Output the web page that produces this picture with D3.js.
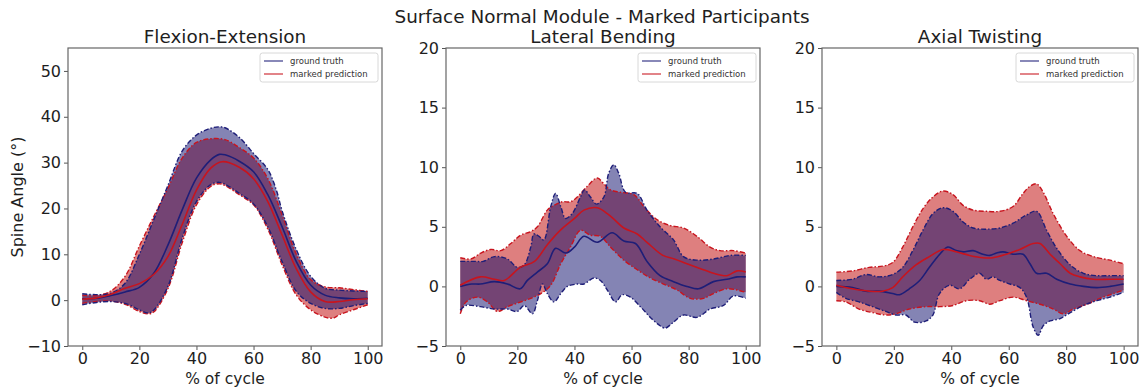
<!DOCTYPE html>
<html>
<head>
<meta charset="utf-8">
<script src="https://cdnjs.cloudflare.com/ajax/libs/d3/7.8.5/d3.min.js"></script>
<style>
  body { margin: 0; background: #fff; }
  text { font-family: "DejaVu Sans", sans-serif; }
</style>
</head>
<body>
<div id="chart"></div>
<script>
// ---- data: [% of cycle, angle in degrees] ----
const xTicks = [0, 20, 40, 60, 80, 100];

// Flexion-Extension
const feGtMean = [[0,0.3],[5,0.4],[10,1.0],[15,1.8],[20,2.8],[25,5.8],[30,12],[35,19.7],[40,26.6],[45,30.6],[48,31.8],[50,31.7],[55,30.3],[60,28.0],[65,23],[70,16],[75,8.4],[80,3.3],[85,1.1],[90,0.5],[95,0.3],[100,0.4]];
const fePrMean = [[0,0.2],[5,0.5],[10,1.3],[15,2.6],[20,3.6],[25,5.6],[30,9.5],[35,16.5],[40,24],[45,28.8],[49,30.2],[55,29],[60,26.5],[65,21.5],[70,14.2],[75,6.8],[80,1.8],[85,-0.3],[90,-0.3],[95,0.1],[100,0.3]];
const feGtUpper = [[0,1.4],[5,1.2],[10,1.5],[15,3.7],[20,10],[25,17.5],[30,25],[35,32.5],[40,36],[45,37.5],[48,37.8],[50,37.6],[55,35.5],[60,32],[65,28.5],[68,24],[70,19.5],[75,11],[80,5.2],[85,2.6],[90,2.2],[95,2.0],[100,1.9]];
const fePrUpper = [[0,1.1],[5,1.0],[10,2.0],[15,5.2],[20,11.8],[25,18.2],[30,24.4],[35,31],[40,34.4],[45,35.2],[50,35],[55,33.3],[60,31],[65,26.5],[70,18.6],[75,10],[80,4.5],[85,2.9],[90,2.7],[95,2.3],[100,1.9]];
const feGtLower = [[0,-1.0],[5,-0.5],[10,-0.3],[15,-0.7],[20,-2.1],[23,-2.8],[25,-2.2],[30,3],[35,13.5],[40,21.5],[45,25.2],[48,25.7],[50,25.3],[55,23.3],[60,21],[65,16],[70,8.4],[75,1.9],[80,-0.7],[85,-1.8],[90,-1.8],[95,-1.2],[100,-0.7]];
const fePrLower = [[0,-0.7],[5,-0.3],[10,-0.2],[15,-0.9],[20,-2.5],[23,-3.0],[25,-2.6],[30,2.5],[35,12.5],[40,20.8],[45,24.8],[48,25.4],[50,25.0],[55,23],[60,20.8],[65,15.5],[70,7.7],[75,1.1],[80,-2.1],[85,-3.7],[88,-3.9],[90,-3.2],[95,-2.1],[100,-1.0]];

// Lateral Bending
const lbGtMean = [[0,0],[4,0.2],[7,0.2],[12,0.4],[16.5,0.2],[21,-0.2],[23.5,0.5],[27,1.2],[30.5,1.9],[33.4,3.2],[37,2.8],[40,3.3],[43.3,4.2],[48,3.7],[53.2,4.5],[57.3,3.8],[61.4,3.6],[65.4,2.1],[70,0.9],[74.7,0.4],[79.4,0],[83.5,-0.2],[88.7,0.4],[93.4,0.6],[97,0.8],[100,0.8]];
const lbPrMean = [[0,0.1],[7,0.8],[12,0.6],[15.4,0.5],[21,1.6],[26,2.1],[30.5,3.5],[35,4.7],[40,5.7],[43.3,6.4],[48,6.6],[51.5,6.1],[54,5.6],[57.3,4.9],[62,4.4],[65.4,3.7],[71,2.6],[75,2.3],[79.4,1.9],[84,1.5],[88.7,1.1],[93.4,0.9],[97,1.3],[100,1.2]];
const lbGtUpper = [[0,2.1],[5,2.1],[8,2.1],[12,2.5],[16.5,2.3],[20,1.6],[22.4,1.8],[24.7,3.3],[25.8,4.4],[27.6,4.2],[29.3,3.9],[31.7,6.7],[33.4,7.8],[35.2,6.7],[36.9,5.7],[39.2,6.1],[42.1,7.5],[43.5,8.1],[45.6,7.5],[47.7,6.9],[50.3,7.5],[52,9.5],[53.8,10.2],[55.5,9.5],[57.9,7.9],[62,7.8],[65.4,6.4],[70,5.0],[74.7,3.9],[78.2,2.5],[83,2.2],[88.7,2.3],[94.5,2.6],[100,2.6]];
const lbPrUpper = [[0,2.4],[3.7,2.3],[7.2,2.8],[10.7,3.1],[14.2,3.0],[17.7,3.6],[21.2,4.3],[24.7,4.6],[27,5.0],[30.5,6.4],[32.8,6.8],[35.7,7.1],[38.6,7.1],[41,7.5],[44.5,8.4],[48,9.1],[50.3,8.6],[52.6,8.1],[56.1,7.9],[60.8,7.7],[64.3,6.7],[68.9,5.6],[73.6,5.1],[78.2,4.9],[82.9,4.2],[87.5,3.3],[91,3.0],[95.7,3.0],[100,2.8]];
const lbGtLower = [[0,-2.0],[2,-1.6],[7,-1.7],[12,-1.9],[16.5,-1.9],[20,-2.1],[22.4,-1.6],[25.3,-2.3],[27,-1.2],[28.8,0.2],[30.5,-0.6],[32.8,-1.3],[35.2,-0.6],[37.5,0],[41,0.2],[43.3,0.2],[46.8,0.7],[49.1,0.5],[51.5,-0.3],[54.4,-1.3],[56.7,-0.7],[59.6,-0.9],[63.1,-1.7],[66.6,-2.6],[70,-3.3],[71.8,-3.5],[74.7,-3.0],[78.2,-2.4],[82.9,-2.6],[87.5,-1.9],[92.2,-1.6],[95.7,-0.8],[100,-1.0]];
const lbPrLower = [[0,-2.3],[2,-1.3],[6,-0.9],[9.5,-1.3],[13,-2.1],[16.5,-1.7],[20,-1.4],[24.7,-1.0],[28.2,-0.6],[31.7,0.1],[35.2,1.9],[38.6,3.3],[42.1,4.7],[45.6,4.3],[49.1,4.2],[52.6,3.3],[57.3,2.2],[62,1.4],[66.6,0.7],[71.2,0.2],[75.9,-0.3],[80.6,-1.0],[85.2,-1.0],[88.7,-0.6],[93.4,-0.2],[97,-0.3],[100,-0.5]];

// Axial Twisting
const atGtMean = [[0,0],[5.6,-0.1],[10.3,-0.4],[14.9,-0.4],[19.6,-0.6],[22,-0.7],[25.4,-0.2],[29,0.5],[32.4,1.6],[36,2.7],[38.8,3.3],[41.7,3.0],[44.1,2.9],[47.6,3.0],[51,2.7],[53.4,2.6],[55.7,2.8],[58,2.9],[61.5,2.7],[65,2.7],[67.4,1.9],[69.7,1.1],[73.2,1.1],[76.7,0.6],[81.4,0.2],[86,0],[90.7,-0.1],[95.3,0],[100,0.2]];
const atPrMean = [[0,0.1],[5.6,-0.2],[11.4,-0.4],[16.1,-0.4],[19.6,-0.1],[23.1,0.8],[27.7,1.8],[32.4,2.5],[37.1,3.1],[41.7,2.9],[46.4,2.6],[51,2.4],[54.5,2.4],[59.2,2.7],[63.9,3.1],[68.5,3.6],[70.9,3.6],[74.4,2.7],[77.9,1.9],[81.4,1.1],[84.8,0.8],[89.5,0.6],[95.3,0.6],[100,0.6]];
const atGtUpper = [[0,0.5],[5.6,0.6],[10.3,1.0],[14.9,0.8],[19.6,1.0],[23.1,1.6],[26.6,3.0],[30.1,4.7],[33.6,6.1],[37.1,6.6],[40.6,6.3],[44.1,5.4],[47.6,4.9],[52.2,4.8],[56.9,4.9],[61.5,5.3],[66.2,6.0],[69.7,6.3],[73.2,4.7],[76.7,3.2],[81.4,1.8],[86,1.1],[90.7,0.9],[95.3,0.9],[100,0.9]];
const atPrUpper = [[0,1.2],[5.6,1.3],[11.4,1.6],[16.1,1.7],[19.6,2.0],[23.1,3.3],[26.6,5.0],[30.1,6.5],[33.6,7.5],[37.1,8.0],[40.6,7.7],[44.1,6.8],[47.6,6.4],[52.2,6.3],[56.9,6.3],[61.5,6.7],[65,7.8],[67.4,8.4],[69.7,8.6],[72,7.9],[75.5,6.1],[80.2,4.2],[84.8,3.0],[89.5,2.5],[95.3,2.2],[100,1.9]];
const atGtLower = [[0,-0.5],[3.3,-1.0],[7.9,-1.3],[12.6,-1.7],[17.2,-2.1],[20.7,-2.4],[24.2,-2.4],[27.2,-3.0],[31.2,-2.9],[33.6,-2.4],[35.9,-0.6],[39.4,0.1],[42.9,-0.2],[46.4,0.6],[49.9,1.1],[52.2,0.6],[54.5,0.8],[56.9,0.5],[60.4,0.2],[63.9,-0.1],[66.2,-0.9],[68.5,-3.4],[70.3,-4.1],[72,-3.3],[74.4,-2.9],[77.9,-2.7],[81.4,-2.2],[86,-1.6],[90.7,-1.2],[95.3,-0.9],[100,-0.5]];
const atPrLower = [[0,-1.2],[3.3,-1.3],[7.9,-1.9],[12.6,-2.2],[17.2,-2.4],[20.7,-2.3],[25.4,-1.9],[31.2,-1.7],[35.9,-1.7],[40.6,-1.6],[45.2,-1.2],[49.9,-1.2],[53.4,-1.5],[56.9,-1.2],[61.5,-0.9],[66.2,-1.2],[70.9,-1.5],[75.5,-1.9],[79,-2.3],[82.5,-1.9],[87.2,-1.5],[91.8,-1.0],[96.5,-0.6],[100,-0.3]];

const panels = [
  {title: "Flexion-Extension", left: 68, right: 382, yDomain: [-10, 55], yTicks: [-10, 0, 10, 20, 30, 40, 50],
   gt: [feGtMean, feGtUpper, feGtLower], pr: [fePrMean, fePrUpper, fePrLower]},
  {title: "Lateral Bending", left: 446, right: 760, yDomain: [-5, 20], yTicks: [-5, 0, 5, 10, 15, 20],
   gt: [lbGtMean, lbGtUpper, lbGtLower], pr: [lbPrMean, lbPrUpper, lbPrLower]},
  {title: "Axial Twisting", left: 822, right: 1138, yDomain: [-5, 20], yTicks: [-5, 0, 5, 10, 15, 20],
   gt: [atGtMean, atGtUpper, atGtLower], pr: [atPrMean, atPrUpper, atPrLower]}
];

const width = 1143, height = 389;
const axTop = 48, axBottom = 346;

const gtLine = "#1e1e78", prLine = "#c8141e";
const gtFill = "#0a0a69", prFill = "#be0000";
const textCol = "#1e1e1e";

const svg = d3.select("#chart").append("svg")
  .attr("width", width).attr("height", height);

// suptitle
svg.append("text")
  .attr("x", 602).attr("y", 23)
  .attr("text-anchor", "middle")
  .style("font-size", "18.4px").style("fill", textCol)
  .text("Surface Normal Module - Marked Participants");

panels.forEach(function(p, i) {
  const x = d3.scaleLinear().domain([-5, 105]).range([p.left, p.right]);
  const y = d3.scaleLinear().domain(p.yDomain).range([axBottom, axTop]);
  const g = svg.append("g");

  const line = d3.line()
    .x(function(d) { return x(d[0]); })
    .y(function(d) { return y(d[1]); })
    .curve(d3.curveCatmullRom.alpha(0.5));

  // band = upper forward + lower backward
  function band(upper, lower) {
    const a = line(upper);
    const b = line(lower.slice().reverse());
    return a + "L" + b.slice(1) + "Z";
  }

  // red band first, blue on top
  g.append("path").attr("d", band(p.pr[1], p.pr[2]))
    .attr("fill", prFill).attr("fill-opacity", 0.5);
  g.append("path").attr("d", band(p.gt[1], p.gt[2]))
    .attr("fill", gtFill).attr("fill-opacity", 0.5);

  // dash-dot edges
  [[p.pr[1], prLine], [p.pr[2], prLine], [p.gt[1], gtLine], [p.gt[2], gtLine]].forEach(function(e) {
    g.append("path").attr("d", line(e[0]))
      .attr("fill", "none").attr("stroke", e[1])
      .attr("stroke-width", 1.4).attr("stroke-dasharray", "5,2,1.5,2");
  });

  // means
  g.append("path").attr("d", line(p.gt[0]))
    .attr("fill", "none").attr("stroke", gtLine).attr("stroke-width", 1.6);
  g.append("path").attr("d", line(p.pr[0]))
    .attr("fill", "none").attr("stroke", prLine).attr("stroke-width", 1.6);

  // axes
  const xAxis = svg.append("g").attr("transform", "translate(0," + axBottom + ")")
    .call(d3.axisBottom(x).tickValues(xTicks).tickSize(4).tickPadding(3));
  const yAxis = svg.append("g").attr("transform", "translate(" + p.left + ",0)")
    .call(d3.axisLeft(y).tickValues(p.yTicks).tickSize(4).tickPadding(3)
      .tickFormat(function(d) { return d < 0 ? "\u2212" + Math.abs(d) : d; }));
  [xAxis, yAxis].forEach(function(a) {
    a.select(".domain").remove();
    a.selectAll(".tick line").attr("stroke", "#555");
    a.selectAll(".tick text").style("font-size", "16px")
      .style("font-family", "DejaVu Sans, sans-serif").attr("fill", textCol);
  });

  // frame
  svg.append("rect")
    .attr("x", p.left).attr("y", axTop)
    .attr("width", p.right - p.left).attr("height", axBottom - axTop)
    .attr("fill", "none").attr("stroke", "#666").attr("stroke-width", 1.2);

  // title
  svg.append("text")
    .attr("x", (p.left + p.right) / 2).attr("y", 43)
    .attr("text-anchor", "middle")
    .style("font-size", "18.4px").style("fill", textCol)
    .text(p.title);

  // x label
  svg.append("text")
    .attr("x", (p.left + p.right) / 2).attr("y", 384)
    .attr("text-anchor", "middle")
    .style("font-size", "15.5px").style("fill", textCol)
    .text("% of cycle");

  // legend
  const lg = svg.append("g").attr("transform", "translate(" + (p.right - 122) + "," + (axTop + 5) + ")");
  lg.append("rect").attr("width", 118).attr("height", 29).attr("rx", 2.5)
    .attr("fill", "#fff").attr("fill-opacity", 0.8).attr("stroke", "#d8d8d8");
  [["ground truth", gtLine], ["marked prediction", prLine]].forEach(function(it, k) {
    const yy = 8 + k * 13;
    lg.append("line").attr("x1", 4).attr("x2", 23).attr("y1", yy).attr("y2", yy)
      .attr("stroke", it[1]).attr("stroke-opacity", 0.7).attr("stroke-width", 1.5);
    lg.append("text").attr("x", 30).attr("y", yy + 3)
      .style("font-size", "8.5px").style("fill", "#333").text(it[0]);
  });
});

// y label
svg.append("text")
  .attr("transform", "translate(23,197) rotate(-90)")
  .attr("text-anchor", "middle")
  .style("font-size", "16px").style("fill", textCol)
  .text("Spine Angle (\u00b0)");
</script>
</body>
</html>
